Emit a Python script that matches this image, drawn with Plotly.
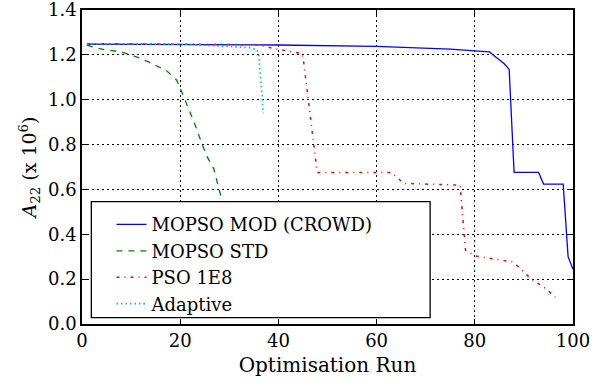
import plotly.graph_objects as go

# --- data ---
mod_x = [1, 20, 40, 60, 70, 75, 80, 83, 84, 86, 87, 88, 93, 94, 98, 99, 100]
mod_y = [1.248, 1.247, 1.244, 1.238, 1.232, 1.226, 1.218, 1.213, 1.195, 1.16, 1.135,
         0.676, 0.676, 0.624, 0.624, 0.30, 0.244]

std_x = [1, 3, 5, 8, 11.5, 14.3, 17.3, 19.3, 21, 23, 24.4, 25.5, 26.8, 28.5, 30, 32, 34]
std_y = [1.243, 1.23, 1.222, 1.213, 1.188, 1.161, 1.128, 1.087, 0.998, 0.89, 0.805,
         0.745, 0.694, 0.552, 0.45, 0.35, 0.25]

pso_x = [1, 20, 36, 39, 42.8, 44.8, 45.1, 46.1, 47.2, 47.9, 63, 65.5, 77, 77.7, 78.1,
         80.1, 85.2, 87.6, 89.3, 91.3, 94.4, 96.4]
pso_y = [1.25, 1.248, 1.245, 1.228, 1.213, 1.206, 1.176, 0.998, 0.79, 0.676, 0.676,
         0.627, 0.619, 0.419, 0.33, 0.303, 0.285, 0.277, 0.248, 0.204, 0.159, 0.119]

ada_x = [1, 20, 29.5, 34, 35.6, 36.0, 36.7, 36.9]
ada_y = [1.25, 1.248, 1.238, 1.232, 1.224, 1.198, 1.012, 0.939]

names = ["MOPSO MOD (CROWD)", "MOPSO STD", "PSO 1E8", "Adaptive"]
x_ticks = [0, 20, 40, 60, 80, 100]
y_ticks = [0.0, 0.2, 0.4, 0.6, 0.8, 1.0, 1.2, 1.4]

FONT = "DejaVu Serif"

fig = go.Figure()
series = [
    (mod_x, mod_y, names[0], "#0000ff", "solid", 1.3),
    (std_x, std_y, names[1], "#008000", "6px,6px", 1.3),
    (pso_x, pso_y, names[2], "#ff0000", "3px,5px,1px,5px", 1.5),
    (ada_x, ada_y, names[3], "#00bfbf", "1.5px,3px", 1.6),
]
for xs, ys, nm, col, dash, w in series:
    fig.add_trace(go.Scatter(x=xs, y=ys, name=nm, mode="lines",
                             line=dict(color=col, width=w, dash=dash)))

# legend box (white, black frame) drawn over the traces
fig.add_shape(type="rect", xref="paper", yref="paper",
              x0=0.019, x1=0.709, y0=0.02, y1=0.39,
              fillcolor="white", line=dict(color="black", width=1.3),
              layer="above")

fig.update_layout(
    width=597, height=380,
    margin=dict(l=82, r=24, t=10, b=56, autoexpand=False),
    paper_bgcolor="white", plot_bgcolor="white",
    font=dict(family=FONT, color="black", size=18),
    showlegend=True,
    legend=dict(x=0.06, y=0.375, xanchor="left", yanchor="top",
                bgcolor="rgba(0,0,0,0)", borderwidth=0,
                font=dict(family=FONT, size=18, color="black"),
                tracegroupgap=0, itemwidth=30),
)
for ax in (fig.layout.xaxis, fig.layout.yaxis):
    ax.showline = True
    ax.linecolor = "black"
    ax.linewidth = 1.5
    ax.mirror = "allticks"
    ax.ticks = "inside"
    ax.ticklen = 5
    ax.tickcolor = "black"
    ax.showgrid = True
    ax.gridcolor = "#000000"
    ax.gridwidth = 1
    ax.griddash = "2px,3px"
    ax.zeroline = False
    ax.automargin = False
    ax.ticklabeloverflow = "allow"
    ax.tickfont = dict(family=FONT, size=18, color="black")

fig.update_xaxes(range=[0, 100], tickvals=x_ticks,
                 title=dict(text="Optimisation Run", font=dict(family=FONT, size=20),
                            standoff=8))
fig.update_yaxes(range=[0, 1.4], tickvals=y_ticks, tickformat=".1f",
                 title=dict(text="<i>A</i><sub>22</sub> (x 10<sup>6</sup>)",
                            font=dict(family=FONT, size=19), standoff=6))

fig.write_html("out.html")
